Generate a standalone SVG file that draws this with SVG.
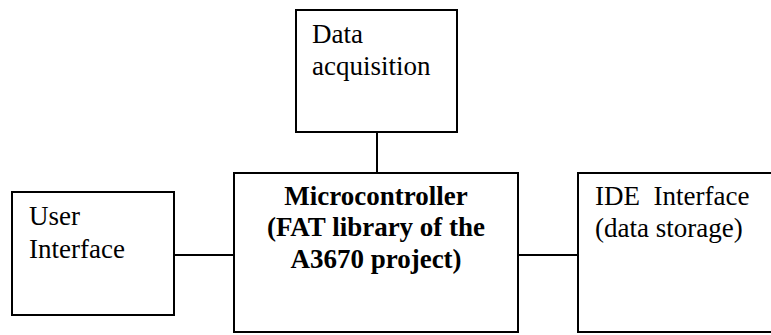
<svg xmlns="http://www.w3.org/2000/svg" width="771" height="335" viewBox="0 0 771 335">
<style>
.box{fill:#fff;stroke:#000;stroke-width:2}
.t{font-family:"Liberation Serif","Times New Roman",serif;font-size:27px;fill:#000}
.b{font-weight:bold;text-anchor:middle}
.c{stroke:#000;stroke-width:2;fill:none}
</style>
<rect width="771" height="335" fill="#fff"/>
<g id="connectors">
<line class="c" x1="377" y1="132" x2="377" y2="173"/>
<line class="c" x1="174" y1="255" x2="234" y2="255"/>
<line class="c" x1="518" y1="255" x2="578" y2="255"/>
</g>
<g id="data-acquisition">
<rect class="box" x="296" y="10" width="161" height="122"/>
<text class="t" x="312" y="43">Data</text>
<text class="t" x="312" y="75">acquisition</text>
</g>
<g id="user-interface">
<rect class="box" x="12" y="192" width="162" height="123"/>
<text class="t" x="29" y="225">User</text>
<text class="t" x="29" y="258">Interface</text>
</g>
<g id="microcontroller">
<rect class="box" x="234" y="173" width="284" height="159"/>
<text class="t b" x="376" y="205">Microcontroller</text>
<text class="t b" x="376" y="236">(FAT library of the</text>
<text class="t b" x="376" y="268">A3670 project)</text>
</g>
<g id="ide-interface">
<rect class="box" x="578" y="173" width="200" height="159"/>
<text class="t" x="595" y="205" xml:space="preserve">IDE  Interface</text>
<text class="t" x="595" y="237">(data storage)</text>
</g>
</svg>
